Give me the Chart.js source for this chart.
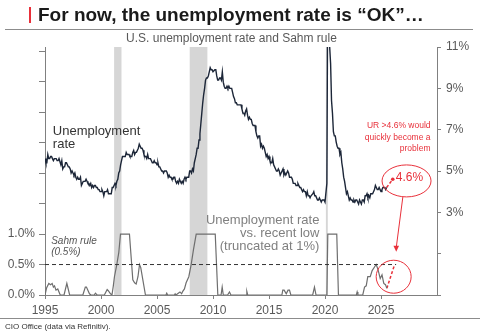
<!DOCTYPE html>
<html>
<head>
<meta charset="utf-8">
<script src="https://cdn.jsdelivr.net/npm/chart.js@4.4.1/dist/chart.umd.min.js"></script>
<style>
  html, body { margin: 0; padding: 0; background: #fff; }
  #wrap { position: relative; width: 480px; height: 334px; overflow: hidden; font-family: "Liberation Sans", Arial, sans-serif; }
  #chart { position: absolute; left: 0; top: 0; }
  .bar { position: absolute; left: 29px; top: 7px; width: 2px; height: 16px; background: #e8303a; }
  .title { position: absolute; left: 38px; top: 5px; font-size: 19px; line-height: 19px; font-weight: bold; color: #1a1a1a; white-space: nowrap; }
  .rule1 { position: absolute; left: 5px; top: 29px; width: 468px; height: 1px; background: #8c8c8c; }
  .sub { position: absolute; left: 0; width: 463px; top: 31px; text-align: center; font-size: 12px; line-height: 14px; color: #595959; }
  .rule2 { position: absolute; left: 0; top: 318px; width: 480px; height: 1px; background: #8c8c8c; }
  .foot { position: absolute; left: 5px; top: 323px; font-size: 8px; line-height: 8px; color: #333; white-space: nowrap; }
</style>
</head>
<body>
<div id="wrap">
  <canvas id="chart" width="480" height="334"></canvas>
  <div class="bar"></div>
  <div class="title">For now, the unemployment rate is “OK”…</div>
  <div class="rule1"></div>
  <div class="sub">U.S. unemployment rate and Sahm rule</div>
  <div class="rule2"></div>
  <div class="foot">CIO Office (data via Refinitiv).</div>
</div>
<script>
// US unemployment rate, monthly from Jan 1995
const urStartYear = 1995;
const urMonthly = [
  5.6, 5.4, 5.4, 5.8, 5.6, 5.6, 5.7, 5.7, 5.6, 5.5, 5.6, 5.6, // 1995
  5.6, 5.5, 5.5, 5.6, 5.6, 5.3, 5.5, 5.1, 5.2, 5.2, 5.4, 5.4, // 1996
  5.3, 5.2, 5.2, 5.1, 4.9, 5.0, 4.9, 4.8, 4.9, 4.7, 4.6, 4.7, // 1997
  4.6, 4.6, 4.7, 4.3, 4.4, 4.5, 4.5, 4.5, 4.6, 4.5, 4.4, 4.4, // 1998
  4.3, 4.4, 4.2, 4.3, 4.2, 4.3, 4.3, 4.2, 4.2, 4.1, 4.1, 4.0, // 1999
  4.0, 4.1, 4.0, 3.8, 4.0, 4.0, 4.0, 4.1, 3.9, 3.9, 3.9, 3.9, // 2000
  4.2, 4.2, 4.3, 4.4, 4.3, 4.5, 4.6, 4.9, 5.0, 5.3, 5.5, 5.7, // 2001
  5.7, 5.7, 5.7, 5.9, 5.8, 5.8, 5.8, 5.7, 5.7, 5.7, 5.9, 6.0, // 2002
  5.8, 5.9, 5.9, 6.0, 6.1, 6.3, 6.2, 6.1, 6.1, 6.0, 5.8, 5.7, // 2003
  5.7, 5.6, 5.8, 5.6, 5.6, 5.6, 5.5, 5.4, 5.4, 5.5, 5.4, 5.4, // 2004
  5.3, 5.4, 5.2, 5.2, 5.1, 5.0, 5.0, 4.9, 5.0, 5.0, 5.0, 4.9, // 2005
  4.7, 4.8, 4.7, 4.7, 4.6, 4.6, 4.7, 4.7, 4.5, 4.4, 4.5, 4.4, // 2006
  4.6, 4.5, 4.4, 4.5, 4.4, 4.6, 4.7, 4.6, 4.7, 4.7, 4.7, 5.0, // 2007
  5.0, 4.9, 5.1, 5.0, 5.4, 5.6, 5.8, 6.1, 6.1, 6.5, 6.8, 7.3, // 2008
  7.8, 8.3, 8.7, 9.0, 9.4, 9.5, 9.5, 9.6, 9.8, 10.0, 9.9, 9.9, // 2009
  9.8, 9.8, 9.9, 9.9, 9.6, 9.4, 9.4, 9.5, 9.5, 9.4, 9.8, 9.3, // 2010
  9.1, 9.0, 9.0, 9.1, 9.0, 9.1, 9.0, 9.0, 9.0, 8.8, 8.6, 8.5, // 2011
  8.3, 8.3, 8.2, 8.2, 8.2, 8.2, 8.2, 8.0, 7.8, 7.8, 7.7, 7.9, // 2012
  8.0, 7.7, 7.5, 7.6, 7.5, 7.5, 7.3, 7.2, 7.2, 7.2, 6.9, 6.7, // 2013
  6.6, 6.7, 6.7, 6.2, 6.3, 6.1, 6.2, 6.1, 5.9, 5.7, 5.8, 5.6, // 2014
  5.7, 5.5, 5.4, 5.4, 5.6, 5.3, 5.2, 5.1, 5.0, 5.0, 5.1, 5.0, // 2015
  4.8, 4.9, 5.0, 5.1, 4.8, 4.9, 4.8, 4.9, 5.0, 4.9, 4.7, 4.7, // 2016
  4.7, 4.6, 4.4, 4.4, 4.4, 4.3, 4.3, 4.4, 4.3, 4.2, 4.2, 4.1, // 2017
  4.0, 4.1, 4.0, 4.0, 3.8, 4.0, 3.8, 3.8, 3.7, 3.8, 3.8, 3.9, // 2018
  4.0, 3.8, 3.8, 3.7, 3.6, 3.6, 3.7, 3.6, 3.5, 3.6, 3.6, 3.6, // 2019
  3.5, 3.5, 4.4, 14.8, 13.2, 11.0, 10.2, 8.4, 7.8, 6.9, 6.7, 6.7, // 2020
  6.4, 6.2, 6.1, 6.1, 5.8, 5.9, 5.4, 5.1, 4.7, 4.5, 4.2, 3.9, // 2021
  4.0, 3.8, 3.6, 3.7, 3.6, 3.6, 3.5, 3.6, 3.5, 3.6, 3.6, 3.5, // 2022
  3.4, 3.6, 3.5, 3.4, 3.6, 3.6, 3.5, 3.8, 3.8, 3.9, 3.7, 3.8, // 2023
  3.7, 3.9, 3.9, 3.9, 4.0, 4.1, 4.3, 4.2, 4.1, 4.1, 4.2, 4.1, // 2024
  4.0, 4.1, 4.2, 4.2, 4.2, 4.1, 4.2                          // 2025
];

// unemployment rate vs. recent low (truncated at 1%)
const sahmYears = [
  1995.0, 1995.15, 1995.34, 1995.5, 1995.64, 1995.75, 1995.85, 1995.98, 1996.14, 1996.36,
  1996.7, 1996.95, 1997.2, 1998.38, 1998.6, 1998.7, 1998.97, 1999.1, 1999.4, 1999.5, 1999.65,
  2000.3, 2000.55, 2000.65, 2000.85, 2000.98, 2001.1, 2001.2, 2001.41, 2001.59, 2001.74,
  2002.54, 2002.7, 2002.84, 2003.0, 2003.14, 2003.3, 2003.44, 2003.55, 2003.97,
  2005.8, 2005.87, 2005.95, 2006.55, 2006.62, 2006.7, 2006.9, 2007.05, 2007.2, 2007.3,
  2007.45, 2007.6, 2007.84, 2008.05, 2008.26, 2008.5, 2010.2, 2010.43,
  2010.72, 2010.82, 2010.92, 2011.3, 2011.47, 2011.6, 2012.95, 2013.02, 2013.1,
  2016.15, 2016.23, 2016.35, 2016.54, 2016.7, 2016.83, 2016.95, 2018.9, 2019.06, 2019.2,
  2020.17, 2020.25, 2021.05, 2021.2, 2022.8, 2022.87, 2022.94,
  2023.37, 2023.53, 2023.68, 2023.82, 2024.04, 2024.21, 2024.42, 2024.57, 2024.73,
  2024.93, 2025.09, 2025.25, 2025.4, 2025.52
];
const sahmValues = [
  0, 0.12, 0.19, 0.17, 0.19, 0.13, 0.15, 0.08, 0.1, 0,
  0, 0.19, 0, 0, 0.13, 0.13, 0.02, 0, 0, 0.03, 0,
  0, 0.09, 0.07, 0.02, 0, 0.15, 0.3, 0.5, 0.7, 1.0,
  1.0, 0.6, 0.25, 0.2, 0.18, 0.3, 0.5, 0.45, 0,
  0, 0.03, 0, 0, 0.02, 0, 0.03, 0.05, 0.02, 0.06,
  0.1, 0.2, 0.3, 0.5, 0.75, 1.0, 1.0, 0,
  0, 0.13, 0, 0, 0.05, 0, 0, 0.06, 0,
  0, 0.08, 0.08, 0.02, 0.08, 0.08, 0, 0, 0.13, 0,
  0, 1.0, 1.0, 0, 0, 0.05, 0,
  0, 0.13, 0.15, 0.3, 0.3, 0.4, 0.46, 0.5, 0.42,
  0.27, 0.33, 0.19, 0.17, 0.11
];

const recessionStart = [2001.17, 2007.92, 2020.08];
const recessionEnd = [2001.83, 2009.5, 2020.25];

const thresholdYears = [1995, 2026.35];
const thresholdValues = [0.5, 0.5];

const urProjYears = [2025.5, 2026.05];
const urProjValues = [4.2, 4.6];
const sahmProjYears = [2025.52, 2026.2];
const sahmProjValues = [0.11, 0.49];

const xTickYears = [1995, 2000, 2005, 2010, 2015, 2020, 2025];
const urTicks = [-1, 1, 3, 5, 7, 9, 11];
const sahmTicks = [0, 0.5, 1, 1.5, 2, 2.5, 3, 3.5, 4];

const RED = '#e8303a';
const AXIS = '#808080';
const FONT = '"Liberation Sans", Arial, sans-serif';

Chart.defaults.font.family = FONT;

function pts(xs, ys) {
  return xs.map((x, i) => ({ x: x, y: ys[i] }));
}

const urPoints = urMonthly.map((v, i) => ({ x: urStartYear + i / 12, y: v }));

// recession shading + text, ellipses and arrow
const notes = {
  id: 'notes',
  beforeDatasetsDraw(chart) {
    const { ctx, chartArea, scales } = chart;
    ctx.save();
    ctx.fillStyle = '#d6d6d6';
    recessionStart.forEach((s, i) => {
      const x0 = scales.x.getPixelForValue(s);
      const x1 = scales.x.getPixelForValue(recessionEnd[i]);
      ctx.fillRect(x0, chartArea.top, x1 - x0, chartArea.bottom - chartArea.top);
    });
    ctx.restore();
  },
  afterDatasetsDraw(chart) {
    const { ctx, scales } = chart;
    const X = v => scales.x.getPixelForValue(v);
    const U = v => scales.yUR.getPixelForValue(v);
    const S = v => scales.ySahm.getPixelForValue(v);
    ctx.save();
    ctx.textBaseline = 'middle';

    ctx.fillStyle = '#333';
    ctx.font = '13px ' + FONT;
    ctx.textAlign = 'left';
    ctx.fillText('Unemployment', X(1995.7), U(6.93));
    ctx.fillText('rate', X(1995.7), U(6.30));

    ctx.fillStyle = '#808080';
    ctx.textAlign = 'right';
    ctx.fillText('Unemployment rate', X(2019.5), S(1.23));
    ctx.fillText('vs. recent low', X(2019.5), S(1.01));
    ctx.fillText('(truncated at 1%)', X(2019.5), S(0.79));

    ctx.fillStyle = '#555';
    ctx.textAlign = 'left';
    ctx.font = 'italic 10px ' + FONT;
    ctx.fillText('Sahm rule', X(1995.55), S(0.885));
    ctx.fillText('(0.5%)', X(1995.55), S(0.705));

    ctx.fillStyle = RED;
    ctx.textAlign = 'right';
    ctx.font = '8.5px ' + FONT;
    ctx.fillText('UR >4.6% would', X(2029.42), U(7.18));
    ctx.fillText('quickly become a', X(2029.42), U(6.62));
    ctx.fillText('problem', X(2029.42), U(6.06));

    ctx.textAlign = 'left';
    ctx.font = '12px ' + FONT;
    ctx.fillText('4.6%', X(2026.32), U(4.68));

    ctx.strokeStyle = RED;
    ctx.lineWidth = 1;
    ctx.beginPath();
    ctx.ellipse(X(2027.28), U(4.52), 24.5, 16, 0, 0, Math.PI * 2);
    ctx.stroke();
    ctx.beginPath();
    ctx.ellipse(X(2026.13), S(0.30), 17.5, 16.5, 0, 0, Math.PI * 2);
    ctx.stroke();

    // arrow
    const ax0 = X(2026.95), ay0 = U(3.74);
    const ax1 = X(2026.36), ay1 = S(0.71);
    ctx.beginPath();
    ctx.moveTo(ax0, ay0);
    ctx.lineTo(ax1, ay1 - 4);
    ctx.stroke();
    ctx.fillStyle = RED;
    ctx.beginPath();
    ctx.moveTo(ax1, ay1);
    ctx.lineTo(ax1 - 2.8, ay1 - 6);
    ctx.lineTo(ax1 + 2.8, ay1 - 6);
    ctx.closePath();
    ctx.fill();
    ctx.restore();
  }
};

new Chart(document.getElementById('chart'), {
  type: 'line',
  data: {
    datasets: [
      { data: pts(thresholdYears, thresholdValues), yAxisID: 'ySahm', borderColor: '#333', borderWidth: 1, borderDash: [4, 3] },
      { data: pts(sahmYears, sahmValues), yAxisID: 'ySahm', borderColor: '#6e6e6e', borderWidth: 1.2 },
      { data: pts(sahmProjYears, sahmProjValues), yAxisID: 'ySahm', borderColor: RED, borderWidth: 1.5, borderDash: [3, 2] },
      { data: urPoints, yAxisID: 'yUR', borderColor: '#1c2638', borderWidth: 1.4 },
      { data: pts(urProjYears, urProjValues), yAxisID: 'yUR', borderColor: RED, borderWidth: 1.5, borderDash: [3, 2],
        pointRadius: [0, 1.8], pointBackgroundColor: RED, pointBorderWidth: 0 }
    ]
  },
  options: {
    responsive: false,
    animation: false,
    layout: { padding: { top: 47 } },
    elements: { point: { radius: 0 }, line: { tension: 0 } },
    plugins: { legend: { display: false }, tooltip: { enabled: false } },
    scales: {
      x: {
        type: 'linear', min: 1995, max: 2030,
        afterBuildTicks: s => { s.ticks = xTickYears.map(v => ({ value: v })); },
        afterFit: s => { s.height = 39; },
        grid: { drawOnChartArea: false, tickLength: 4, color: AXIS },
        border: { color: AXIS },
        ticks: { color: '#595959', font: { size: 12 }, padding: 4, maxRotation: 0, callback: v => String(v) }
      },
      ySahm: {
        position: 'left', min: 0, max: 4.07,
        afterBuildTicks: s => { s.ticks = sahmTicks.map(v => ({ value: v })); },
        afterFit: s => { s.width = 45; },
        grid: { drawOnChartArea: false, tickLength: 6, color: AXIS },
        border: { color: AXIS },
        ticks: { color: '#595959', font: { size: 12 }, padding: 4, callback: v => v <= 1 ? v.toFixed(1) + '%' : '' }
      },
      yUR: {
        position: 'right', min: -1, max: 11,
        afterBuildTicks: s => { s.ticks = urTicks.map(v => ({ value: v })); },
        afterFit: s => { s.width = 43; },
        grid: { drawOnChartArea: false, tickLength: 4, color: AXIS },
        border: { color: AXIS },
        ticks: { color: '#595959', font: { size: 12 }, padding: 5, callback: v => v >= 3 ? v + '%' : '' }
      }
    }
  },
  plugins: [notes]
});
</script>
</body>
</html>
